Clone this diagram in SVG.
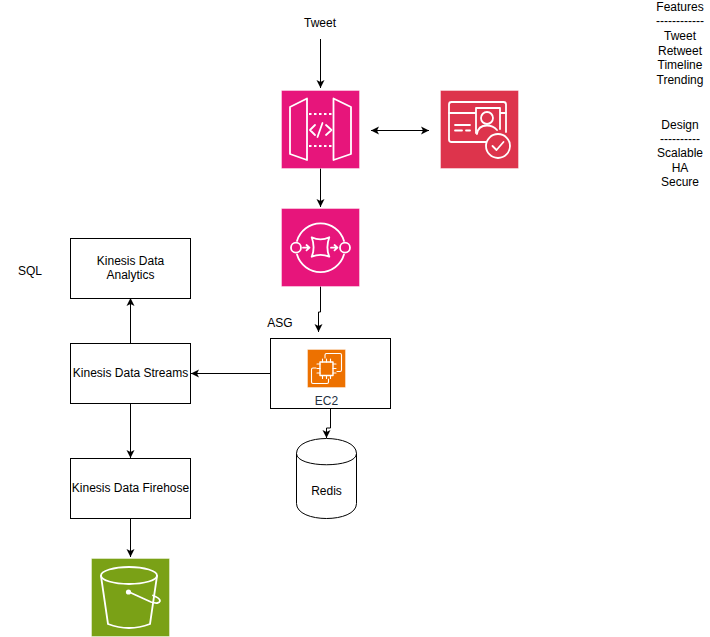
<svg xmlns="http://www.w3.org/2000/svg" width="710" height="637" viewBox="0 0 710 637">
<style>
text{font-family:"Liberation Sans",Arial,Helvetica,sans-serif;font-size:12px;fill:#000;text-anchor:middle}
.box{fill:#fff;stroke:#000;stroke-width:1}
.c{fill:none;stroke:#000;stroke-width:1}
.i{fill:none;stroke:#fff;stroke-width:1.8;stroke-linejoin:round;stroke-linecap:round}
.s{stroke-width:1.100}
.t{stroke:#fff;stroke-opacity:.4;stroke-width:1}
</style>
<defs>
<marker id="a" markerUnits="userSpaceOnUse" markerWidth="10" markerHeight="10" refX="8" refY="4" orient="auto-start-reverse" viewBox="0 0 10 8"><path d="M0 0L8 4L0 8L2 4Z" fill="#000"/></marker>
</defs>
<g id="connectors">
<path class="c" d="M320.500 39V88" marker-end="url(#a)"/>
<path class="c" d="M371 130.500H429" marker-start="url(#a)" marker-end="url(#a)"/>
<path class="c" d="M320.500 168V207" marker-end="url(#a)"/>
<path class="c" d="M320.500 286V312H318.500V332" marker-end="url(#a)"/>
<path class="c" d="M270.500 373.500H191" marker-end="url(#a)"/>
<path class="c" d="M330.500 408.500V428H326.500V438" marker-end="url(#a)"/>
<path class="c" d="M130.500 343.500V298" marker-end="url(#a)"/>
<path class="c" d="M130.500 403.500V458" marker-end="url(#a)"/>
<path class="c" d="M130.500 518.500V557" marker-end="url(#a)"/>
</g>
<g id="tweet"><text x="320" y="27">Tweet</text></g>
<g id="api-gateway">
<rect x="281.500" y="90.500" width="78" height="78" fill="#e7157b" class="t"/>
<path class="i" d="M307 98.500L290 107V154L307 160ZM333.500 98.500L351 107V154L333.500 160Z"/>
<path class="i" d="M309 114H332M309 146H332" stroke-dasharray="2.500 2.500" style="stroke-linecap:butt"/>
<path class="i" d="M315 125L310 130L315 135M326 125L331.500 130L326 135M322.500 123L317.500 137"/>
</g>
<g id="cognito">
<rect x="440.500" y="90.500" width="78" height="78" fill="#dd344c" class="t"/>
<path class="i" d="M486 142H451.500Q449 142 449 139.500V104.500Q449 102 451.500 102H503.500Q506 102 506 104.500V132"/>
<path class="i" d="M449 113H476M476 133V108H500V129M500 113H506M455 125H470M455 130.500H462M466 130.500H470"/>
<circle class="i" cx="487" cy="118" r="6"/>
<path class="i" d="M477 134Q478 125.500 487 125.500Q493 125.500 497 130"/>
<circle class="i" cx="498" cy="146" r="12"/>
<path class="i" d="M492.500 146L496.500 150L503.500 142"/>
</g>
<g id="sqs">
<rect x="281.500" y="208.500" width="78" height="78" fill="#e7157b" class="t"/>
<path class="i" d="M297 241A24.500 24.500 0 0 1 344 241M297 254.500A24.500 24.500 0 0 0 344 254.500"/>
<circle class="i" cx="296" cy="247.700" r="5"/>
<circle class="i" cx="345" cy="247.700" r="5"/>
<path class="i" d="M311.700 237.300Q320.500 241.500 329.300 237.300Q325.500 247.500 329.300 256.700Q320.500 253 311.700 256.700Q315.500 247.500 311.700 237.300Z"/>
<path class="i" d="M303 247.700H309M306.500 245L309.500 247.700L306.500 250.400M331 247.700H337M334.500 245L337.500 247.700L334.500 250.400"/>
</g>
<g id="asg-label"><text x="280" y="327">ASG</text></g>
<g id="ec2">
<rect class="box" x="270.500" y="338.500" width="120" height="70"/>
<rect x="307.500" y="349.500" width="38" height="38" fill="#ed7100" class="t"/>
<path class="i s" d="M325 358V355Q325 353.500 326.500 353.500H340Q341.500 353.500 341.500 355V370Q341.500 371.500 340 371.500H337M316 368H313Q311.500 368 311.500 369.500V382Q311.500 383.500 313 383.500H327Q328.500 383.500 328.500 382V379"/>
<rect class="i" x="320" y="362" width="13" height="13.500" style="fill:#ed7100;stroke-width:1.400"/>
<path class="i s" d="M317 364H320M317 368.500H320M317 373H320M333 364H336M333 368.500H336M333 373H336M322.500 359V362M326.500 359V362M330.500 359V362M322.500 375.500V378.500M326.500 375.500V378.500M330.500 375.500V378.500"/>
<text x="326.500" y="405" style="fill:#232f3e">EC2</text>
</g>
<g id="redis">
<path class="box" d="M296.500 453.500C296.500 433.500 356.500 433.500 356.500 453.500V503.500C356.500 523.500 296.500 523.500 296.500 503.500Z"/>
<path class="c" d="M296.500 453.500C296.500 468.500 356.500 468.500 356.500 453.500"/>
<text x="326.500" y="495">Redis</text>
</g>
<g id="kinesis-analytics">
<rect class="box" x="70.500" y="238.500" width="120" height="60"/>
<text x="130.500" y="265">Kinesis Data</text>
<text x="130.500" y="279">Analytics</text>
</g>
<g id="sql-label"><text x="30" y="275">SQL</text></g>
<g id="kinesis-streams">
<rect class="box" x="70.500" y="343.500" width="120" height="60"/>
<text x="130.500" y="377">Kinesis Data Streams</text>
</g>
<g id="kinesis-firehose">
<rect class="box" x="70.500" y="458.500" width="120" height="60"/>
<text x="130.500" y="492">Kinesis Data Firehose</text>
</g>
<g id="s3">
<rect x="91.500" y="558.500" width="78" height="78" fill="#7aa116" class="t"/>
<ellipse class="i" cx="129" cy="575.500" rx="28" ry="8.500"/>
<path class="i" d="M101 576L108 624Q129 632 150 624L157 576"/>
<circle cx="128.500" cy="592" r="2.600" fill="#fff"/>
<path class="i" d="M129 592L151 602Q159 604.500 160 601Q160 598 153 595.500"/>
</g>
<g id="features">
<text x="680" y="11">Features</text>
<text x="680" y="25">------------</text>
<text x="680" y="40">Tweet</text>
<text x="680" y="55">Retweet</text>
<text x="680" y="69">Timeline</text>
<text x="680" y="84">Trending</text>
<text x="680" y="129">Design</text>
<text x="680" y="143">----------</text>
<text x="680" y="157">Scalable</text>
<text x="680" y="172">HA</text>
<text x="680" y="186">Secure</text>
</g>
</svg>
